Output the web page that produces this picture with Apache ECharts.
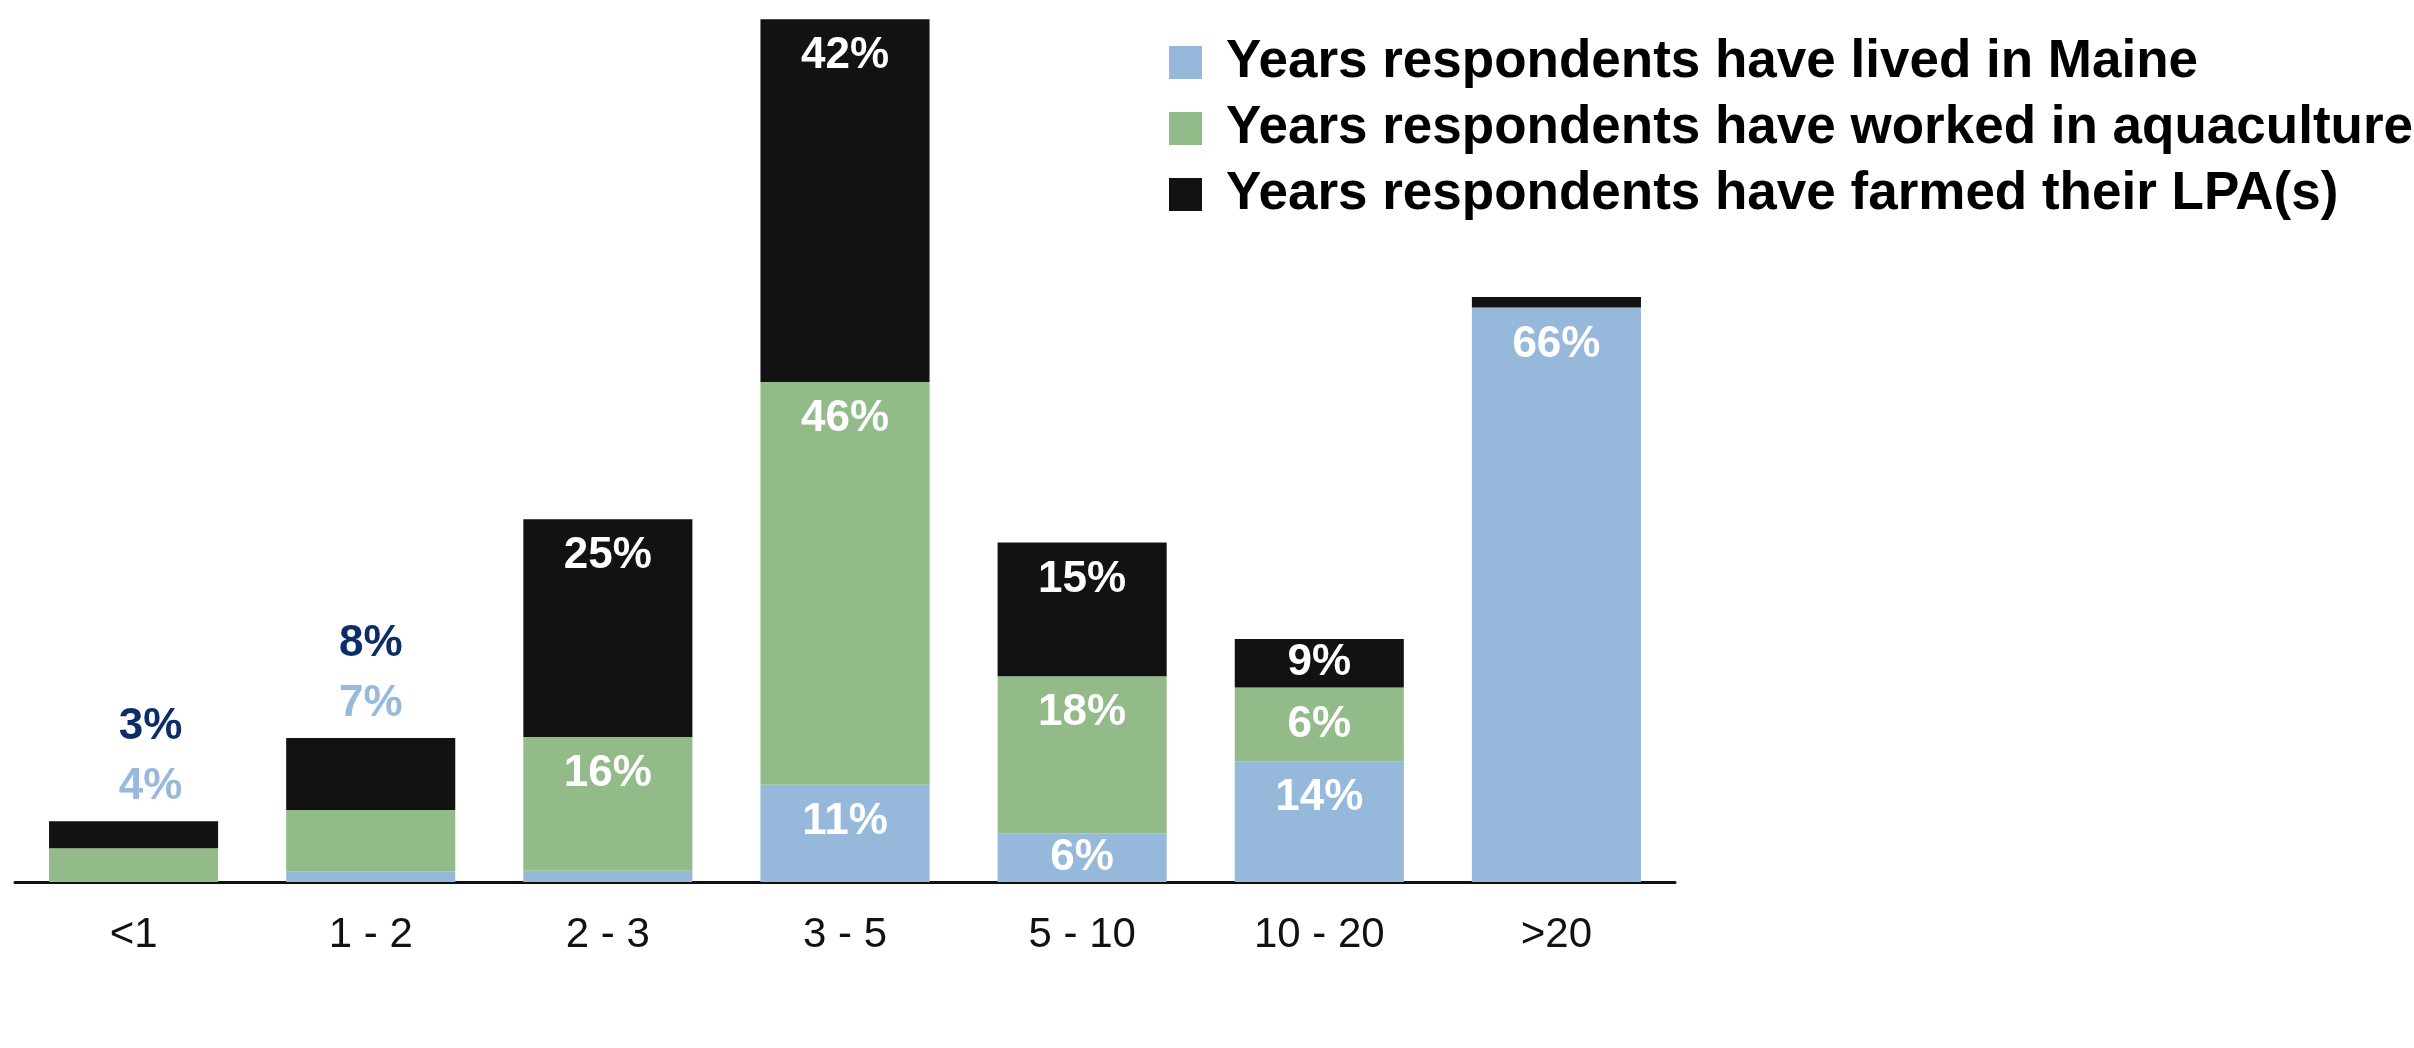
<!DOCTYPE html>
<html>
<head>
<meta charset="utf-8">
<script src="https://cdn.jsdelivr.net/npm/echarts@6/dist/echarts.min.js"></script>
<style>
html,body{margin:0;padding:0;background:#fff;}
#chart{width:2414px;height:1048px;}
</style>
</head>
<body>
<div id="chart"></div>
<script>
// ---- data ----
const categories = ['<1', '1 - 2', '2 - 3', '3 - 5', '5 - 10', '10 - 20', '>20'];
const seriesNames = [
  'Years respondents have lived in Maine',
  'Years respondents have worked in aquaculture',
  'Years respondents have farmed their LPA(s)'
];
// bar heights (percent)
const livedMaine   = [0,   1.2, 1.3, 11.2, 5.6, 13.9, 66.2];
const workedAqua   = [3.9, 7.1, 15.4, 46.4, 18.1, 8.5, 0];
const farmedLPA    = [3.1, 8.3, 25.1, 41.8, 15.4, 5.6, 1.2];
// printed labels
const livedLabels  = ['', '', '', '11%', '6%', '14%', '66%'];
const workedLabels = ['', '', '16%', '46%', '18%', '6%', ''];
const farmedLabels = ['', '', '25%', '42%', '15%', '9%', ''];
// labels printed above the small bars
const aboveDark  = ['3%', '8%', '', '', '', '', ''];
const aboveLight = ['4%', '7%', '', '', '', '', ''];

const colors = ['#95b8db', '#93bb89', '#121212'];
const FONT = '"Liberation Sans", Arial, Helvetica, sans-serif';

function makeData(vals, labels, withAbove) {
  return vals.map((v, i) => {
    const item = { value: v };
    if (withAbove && aboveDark[i]) {
      item.label = {
        show: true,
        position: 'top',
        distance: 4,
        offset: [i === 0 ? 17 : 0, 0],
        formatter: '{d|' + aboveDark[i] + '}\n{l|' + aboveLight[i] + '}',
        rich: {
          d: { color: '#0c2d68', fontSize: 44, fontWeight: 'bold', fontFamily: FONT, lineHeight: 60 },
          l: { color: '#97b9dc', fontSize: 44, fontWeight: 'bold', fontFamily: FONT, lineHeight: 60 }
        }
      };
    } else if (labels[i]) {
      item.label = {
        show: true,
        position: v < 9 ? 'inside' : 'insideTop',
        distance: 15,
        formatter: labels[i],
        color: '#ffffff',
        fontSize: 44,
        fontWeight: 'bold',
        fontFamily: FONT,
        lineHeight: 44
      };
    }
    return item;
  });
}

const chart = echarts.init(document.getElementById('chart'), null, { renderer: 'canvas' });
chart.setOption({
  animation: false,
  backgroundColor: '#ffffff',
  grid: { left: 15, right: 739, top: 14, bottom: 166, containLabel: false },
  legend: {
    orient: 'vertical',
    left: 1164,
    top: 31,
    itemWidth: 33,
    itemHeight: 33,
    itemGap: 13,
    icon: 'rect',
    data: seriesNames,
    textStyle: {
      fontSize: 53,
      fontWeight: 'bold',
      fontFamily: FONT,
      color: '#000',
      lineHeight: 53,
      padding: [0, 0, 0, 19]
    }
  },
  xAxis: {
    type: 'category',
    data: categories,
    axisLine: { show: true, lineStyle: { color: '#111', width: 3 } },
    axisTick: { show: false },
    axisLabel: { fontSize: 42, color: '#111', fontFamily: FONT, margin: 32, interval: 0, lineHeight: 42 }
  },
  yAxis: {
    type: 'value',
    min: 0,
    max: 100,
    show: false,
    splitLine: { show: false }
  },
  series: [
    {
      name: seriesNames[0], type: 'bar', stack: 'all', barCategoryGap: '28.7%',
      itemStyle: { color: colors[0] },
      data: makeData(livedMaine, livedLabels, false)
    },
    {
      name: seriesNames[1], type: 'bar', stack: 'all', barCategoryGap: '28.7%',
      itemStyle: { color: colors[1] },
      data: makeData(workedAqua, workedLabels, false)
    },
    {
      name: seriesNames[2], type: 'bar', stack: 'all', barCategoryGap: '28.7%',
      itemStyle: { color: colors[2] },
      data: makeData(farmedLPA, farmedLabels, true)
    }
  ]
});
</script>
</body>
</html>
